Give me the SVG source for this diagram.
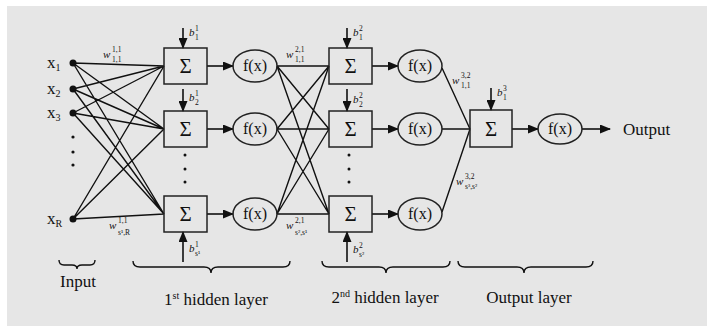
<svg xmlns="http://www.w3.org/2000/svg" width="707" height="326" viewBox="0 0 707 326">
<defs>
<marker id="ah" markerWidth="11" markerHeight="9" refX="10" refY="4.5" orient="auto" markerUnits="userSpaceOnUse">
<path d="M0,0 L11,4.5 L0,9 Z" fill="#111"/>
</marker>
</defs>
<style>
.ln{stroke:#111;stroke-width:1.4;fill:none}
.ar{stroke:#111;stroke-width:1.6;fill:none;marker-end:url(#ah)}
.box{fill:none;stroke:#222;stroke-width:1.5}
.el{fill:none;stroke:#222;stroke-width:1.5}
.big{font-size:17px}
.sig{font-size:21px}
.fx{font-size:16px}
.w{font-size:11px;font-style:italic}
.s{font-size:7.5px}
.b{font-size:11px;font-style:italic}
.dot{fill:#111}
</style>
<rect x="0" y="0" width="707" height="326" fill="#ffffff"/>
<rect x="7" y="6" width="700" height="320" fill="#e6e6e6"/>

<g id="connectors">
<path class="ln" d="M73,63 L164,66 M73,63 L164,129 M73,63 L164,214
M73,89 L164,66 M73,89 L164,129 M73,89 L164,214
M73,113 L164,66 M73,113 L164,129 M73,113 L164,214
M73,219 L164,66 M73,219 L164,129 M73,219 L164,214"/>
<path class="ln" d="M277,66 L329,66 M277,66 L329,129 M277,66 L329,214
M277,129 L329,66 M277,129 L329,129 M277,129 L329,214
M277,214 L329,66 M277,214 L329,129 M277,214 L329,214"/>
<path class="ln" d="M442,68 L470,129 M442,129 L470,129 M442,212 L470,129"/>
<path class="ar" d="M207,66 L233,66"/>
<path class="ar" d="M207,129 L233,129"/>
<path class="ar" d="M207,214 L233,214"/>
<path class="ar" d="M372,66 L398,66"/>
<path class="ar" d="M372,129 L398,129"/>
<path class="ar" d="M372,214 L398,214"/>
<path class="ar" d="M512,129 L538,129"/>
<path class="ar" d="M582,129 L610,129"/>
<path class="ar" d="M183,28 L183,48"/>
<path class="ar" d="M183,89 L183,111"/>
<path class="ar" d="M183,262 L183,232"/>
<path class="ar" d="M347,28 L347,48"/>
<path class="ar" d="M347,89 L347,111"/>
<path class="ar" d="M347,262 L347,232"/>
<path class="ar" d="M491,88 L491,110"/>
</g>

<g font-family="Liberation Serif, serif" fill="#111">
<g id="inputs">
<circle class="dot" cx="73" cy="63" r="3.5"/>
<circle class="dot" cx="73" cy="89" r="3.5"/>
<circle class="dot" cx="73" cy="113" r="3.5"/>
<circle class="dot" cx="73" cy="219" r="3.5"/>
<circle class="dot" cx="73" cy="137" r="1.6"/>
<circle class="dot" cx="73" cy="152" r="1.6"/>
<circle class="dot" cx="73" cy="165" r="1.6"/>
<text class="big" x="47" y="68">x<tspan font-size="10" dy="3">1</tspan></text>
<text class="big" x="47" y="94">x<tspan font-size="10" dy="3">2</tspan></text>
<text class="big" x="47" y="118">x<tspan font-size="10" dy="3">3</tspan></text>
<text class="big" x="47" y="224">x<tspan font-size="10" dy="3">R</tspan></text>
</g>

<g id="layer1">
<rect class="box" x="164" y="48" width="43" height="36"/>
<rect class="box" x="164" y="111" width="43" height="36"/>
<rect class="box" x="164" y="196" width="43" height="36"/>
<text class="sig" x="185.5" y="73" text-anchor="middle">Σ</text>
<text class="sig" x="185.5" y="136" text-anchor="middle">Σ</text>
<text class="sig" x="185.5" y="221" text-anchor="middle">Σ</text>
<circle class="dot" cx="185" cy="155" r="1.5"/>
<circle class="dot" cx="185" cy="169" r="1.5"/>
<circle class="dot" cx="185" cy="182" r="1.5"/>
<ellipse class="el" cx="255" cy="66" rx="22" ry="16"/>
<ellipse class="el" cx="255" cy="129" rx="22" ry="16"/>
<ellipse class="el" cx="255" cy="214" rx="22" ry="16"/>
<text class="fx" x="255" y="71" text-anchor="middle">f(x)</text>
<text class="fx" x="255" y="134" text-anchor="middle">f(x)</text>
<text class="fx" x="255" y="219" text-anchor="middle">f(x)</text>
</g>

<g id="layer2">
<rect class="box" x="329" y="48" width="43" height="36"/>
<rect class="box" x="329" y="111" width="43" height="36"/>
<rect class="box" x="329" y="196" width="43" height="36"/>
<text class="sig" x="350.5" y="73" text-anchor="middle">Σ</text>
<text class="sig" x="350.5" y="136" text-anchor="middle">Σ</text>
<text class="sig" x="350.5" y="221" text-anchor="middle">Σ</text>
<circle class="dot" cx="349" cy="155" r="1.5"/>
<circle class="dot" cx="349" cy="169" r="1.5"/>
<circle class="dot" cx="349" cy="182" r="1.5"/>
<ellipse class="el" cx="420" cy="66" rx="22" ry="16"/>
<ellipse class="el" cx="420" cy="129" rx="22" ry="16"/>
<ellipse class="el" cx="420" cy="214" rx="22" ry="16"/>
<text class="fx" x="420" y="71" text-anchor="middle">f(x)</text>
<text class="fx" x="420" y="134" text-anchor="middle">f(x)</text>
<text class="fx" x="420" y="219" text-anchor="middle">f(x)</text>
</g>

<g id="output">
<rect class="box" x="470" y="110" width="42" height="37"/>
<text class="sig" x="491" y="136" text-anchor="middle">Σ</text>
<ellipse class="el" cx="560" cy="129" rx="22" ry="15"/>
<text class="fx" x="560" y="134" text-anchor="middle">f(x)</text>
<text class="big" x="623" y="135">Output</text>
</g>

<g id="weights">
<text class="w" x="103" y="58">w</text><text class="s" x="112" y="52">1,1</text><text class="s" x="112" y="62">1,1</text>
<text class="w" x="109" y="229">w</text><text class="s" x="118" y="223">1,1</text><text class="s" x="118" y="235">s¹,R</text>
<text class="w" x="286" y="58">w</text><text class="s" x="295" y="52">2,1</text><text class="s" x="295" y="62">1,1</text>
<text class="w" x="286" y="229">w</text><text class="s" x="295" y="223">2,1</text><text class="s" x="295" y="235">s²,s¹</text>
<text class="w" x="452" y="84">w</text><text class="s" x="461" y="78">3,2</text><text class="s" x="461" y="88">1,1</text>
<text class="w" x="456" y="185">w</text><text class="s" x="465" y="179">3,2</text><text class="s" x="465" y="189">s³,s²</text>
</g>

<g id="biases">
<text class="b" x="189" y="36">b</text><text class="s" x="195" y="31">1</text><text class="s" x="195" y="40">1</text>
<text class="b" x="189" y="101">b</text><text class="s" x="195" y="96">1</text><text class="s" x="195" y="105">2</text>
<text class="b" x="189" y="252">b</text><text class="s" x="195" y="247">1</text><text class="s" x="195" y="256">s¹</text>
<text class="b" x="353" y="36">b</text><text class="s" x="359" y="31">2</text><text class="s" x="359" y="40">1</text>
<text class="b" x="353" y="103">b</text><text class="s" x="359" y="98">2</text><text class="s" x="359" y="107">2</text>
<text class="b" x="353" y="253">b</text><text class="s" x="359" y="248">2</text><text class="s" x="359" y="257">s²</text>
<text class="b" x="497" y="96">b</text><text class="s" x="503" y="91">3</text><text class="s" x="503" y="100">1</text>
</g>

<g id="braces">
<path class="ln" d="M59,260 Q59,265 64,265 L72,265 Q77,265 77,269 Q77,265 82,265 L90,265 Q95,265 95,260"/>
<path class="ln" d="M133,261 Q133,267 140,267 L204,267 Q211,267 211,273 Q211,267 218,267 L283,267 Q290,267 290,261"/>
<path class="ln" d="M322,261 Q322,267 329,267 L379,267 Q386,267 386,273 Q386,267 393,267 L443,267 Q450,267 450,261"/>
<path class="ln" d="M458,261 Q458,267 465,267 L517,267 Q524,267 524,273 Q524,267 531,267 L586,267 Q593,267 593,261"/>
</g>

<g id="labels">
<text class="big" x="78" y="287" text-anchor="middle">Input</text>
<text class="big" x="216" y="305" text-anchor="middle">1<tspan font-size="10" dy="-6">st</tspan><tspan dy="6"> hidden layer</tspan></text>
<text class="big" x="385" y="303" text-anchor="middle">2<tspan font-size="10" dy="-6">nd</tspan><tspan dy="6"> hidden layer</tspan></text>
<text class="big" x="529" y="303" text-anchor="middle">Output layer</text>
</g>
</g>
</svg>
